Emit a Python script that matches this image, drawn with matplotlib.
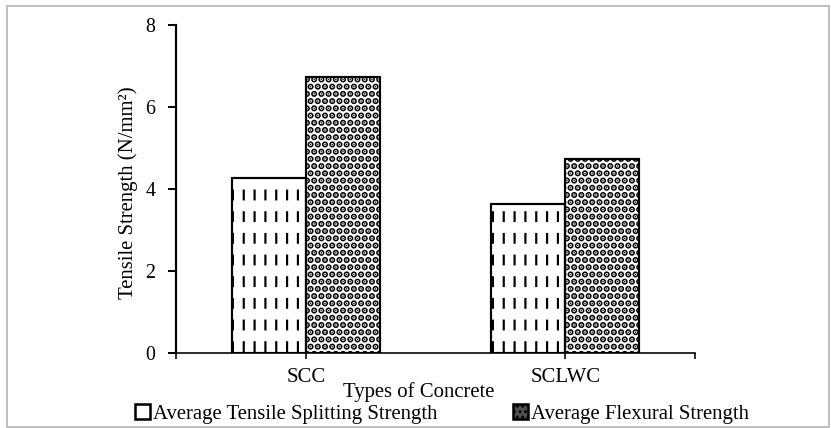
import matplotlib
matplotlib.use("Agg")
import matplotlib.pyplot as plt
from matplotlib.patches import Rectangle, Patch
import numpy as np

categories = ["SCC", "SCLWC"]
tensile_splitting = [4.27, 3.64]
flexural = [6.73, 4.72]
series_names = ["Average Tensile Splitting Strength", "Average Flexural Strength"]
y_ticks = [0, 2, 4, 6, 8]

W, H, DPI = 831, 428, 130
FS = 11.5
plt.rcParams['font.family'] = ['Liberation Serif', 'DejaVu Serif']
plt.rcParams['font.size'] = FS

fig = plt.figure(figsize=(W / DPI, H / DPI), dpi=DPI)
ax = fig.add_axes([176 / W, (H - 353.3) / H, (695 - 176) / W, (353.3 - 24.5) / H])

x = np.arange(len(categories))
bw = 0.285


def set_hlw(patches, lw):
    for p in patches:
        if hasattr(p, "set_hatch_linewidth"):
            p.set_hatch_linewidth(lw)


# tensile bars: vertical dash pattern
b1 = ax.bar(x - bw / 2, tensile_splitting, bw, color="white", edgecolor="black",
            hatch="||", linewidth=0, zorder=2)
set_hlw(b1, 1.2)
b1w = ax.bar(x - bw / 2, tensile_splitting, bw, fill=False, edgecolor="white",
             hatch="-", linewidth=0, zorder=3)
set_hlw(b1w, 6.0)
ax.bar(x - bw / 2, tensile_splitting, bw, fill=False, edgecolor="black",
       linewidth=1.2, zorder=4)

# flexural bars: dense dots
b2 = ax.bar(x + bw / 2, flexural, bw, color="white", edgecolor="black",
            hatch="...", linewidth=0, zorder=2)
set_hlw(b2, 2.5)
ax.bar(x + bw / 2, flexural, bw, fill=False, edgecolor="black",
       linewidth=1.2, zorder=4)

ax.set_xlim(-0.5, 1.5)
ax.set_ylim(0, 8)
ax.set_yticks(y_ticks)
ax.set_yticklabels([str(v) for v in y_ticks])
ax.set_xticks(x)
ax.set_xticklabels(categories)
ax.set_xticks([-0.5, 1.5], minor=True)

for s in ["top", "right"]:
    ax.spines[s].set_visible(False)
ax.spines["left"].set_linewidth(1.2)
ax.spines["bottom"].set_linewidth(0.9)
ax.tick_params(axis="y", direction="out", length=4.5, width=1.1, pad=7, labelsize=11)
ax.tick_params(axis="x", which="both", direction="out", length=3.5, width=0.9, pad=4.5, labelsize=FS)

ax.set_ylabel("Tensile Strength (N/mm²)", fontsize=FS)
ax.yaxis.set_label_coords((138 - 176) / (695 - 176), 0.489)

fig.text(343 / W, (H - 397) / H, "Types of Concrete", ha="left", va="baseline", fontsize=FS)

h1 = Patch(facecolor="white", edgecolor="black", linewidth=1.4)
h2 = Patch(facecolor="#505050", edgecolor="black", hatch="....", linewidth=1.4)
set_hlw([h2], 1.5)
common = dict(frameon=False, fontsize=FS, handlelength=0.7, handleheight=0.7,
              handletextpad=0.15, borderpad=0, borderaxespad=0, loc="center left")
fig.legend([h1], [series_names[0]], bbox_to_anchor=(135 / W, 14 / H), **common)
fig.legend([h2], [series_names[1]], bbox_to_anchor=(513 / W, 14 / H), **common)

fig.patches.append(Rectangle((7 / W, 1 / H), (829 - 7) / W, (H - 6 - 1) / H,
                             transform=fig.transFigure, fill=False,
                             edgecolor="#c0c0c0", linewidth=1.1))

fig.savefig("out.png", dpi=DPI)
